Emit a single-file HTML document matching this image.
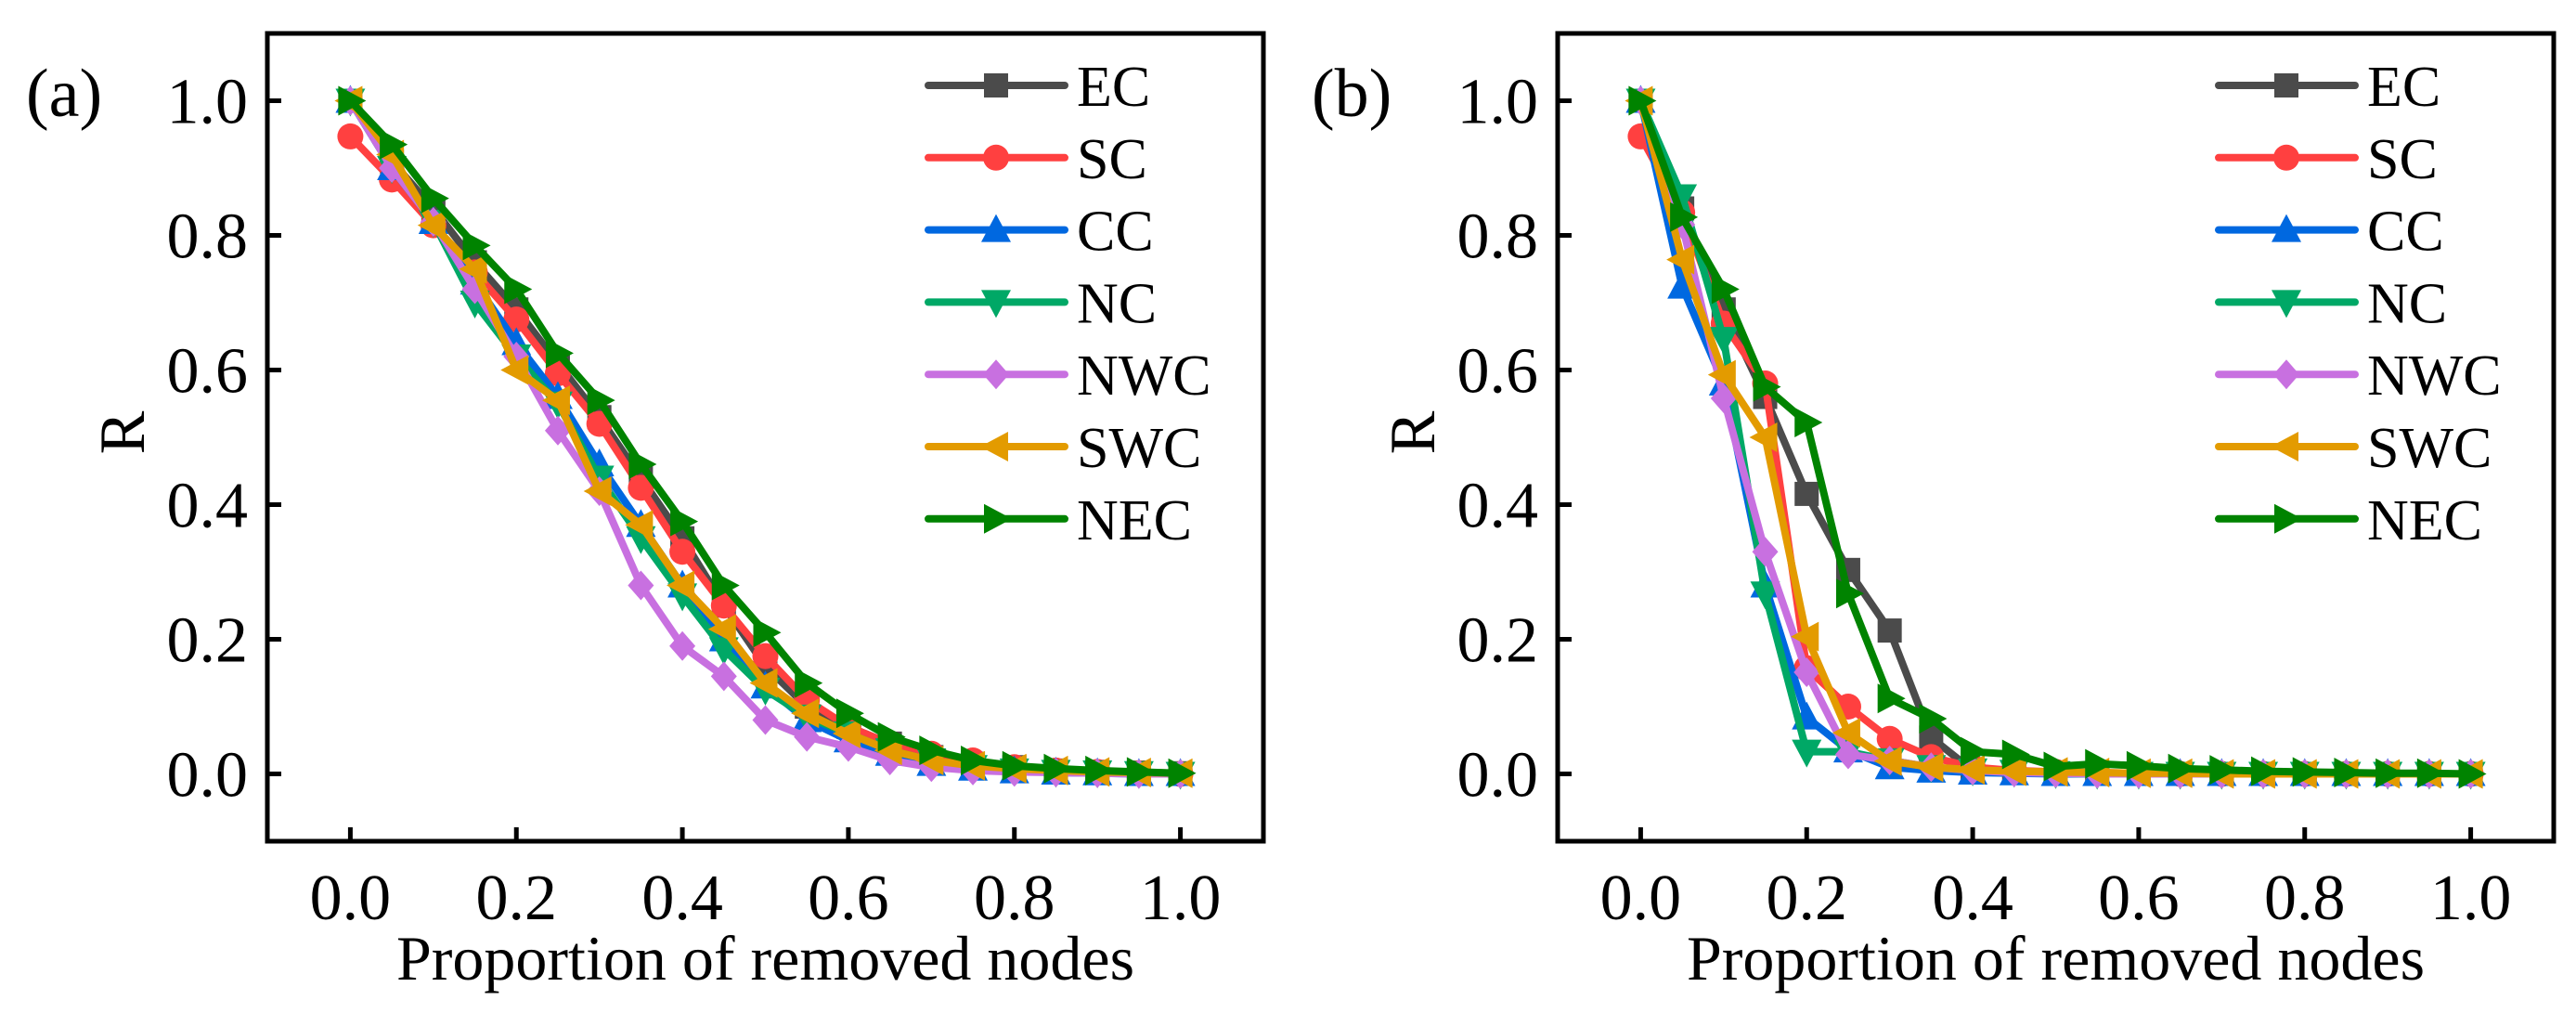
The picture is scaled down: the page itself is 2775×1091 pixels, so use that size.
<!DOCTYPE html>
<html><head><meta charset="utf-8"><style>
html,body{margin:0;padding:0;background:#fff;}
svg{display:block;font-family:"Liberation Serif",serif;}
</style></head><body>
<svg id="fig" width="2775" height="1091" viewBox="0 0 2775 1091" xmlns="http://www.w3.org/2000/svg"></svg>
<script>
const xValues = [0,0.05,0.1,0.15,0.2,0.25,0.3,0.35,0.4,0.45,0.5,0.55,0.6,0.65,0.7,0.75,0.8,0.85,0.9,0.95,1.0];
const seriesNames = ["EC","SC","CC","NC","NWC","SWC","NEC"];
const xTickLabels = ["0.0","0.2","0.4","0.6","0.8","1.0"];
const yTickLabels = ["0.0","0.2","0.4","0.6","0.8","1.0"];
// panel (a)
const aEC  = [1.0,0.91,0.84,0.76,0.69,0.61,0.53,0.44,0.35,0.25,0.16,0.10,0.07,0.045,0.025,0.015,0.01,0.005,0.003,0.002,0.001];
const aSC  = [0.947,0.883,0.815,0.745,0.675,0.595,0.52,0.425,0.33,0.25,0.175,0.11,0.07,0.045,0.03,0.02,0.01,0.005,0.003,0.001,0];
const aCC  = [1.0,0.90,0.82,0.73,0.64,0.56,0.46,0.37,0.28,0.20,0.13,0.08,0.05,0.03,0.015,0.008,0.004,0.002,0.001,0,0];
const aNC  = [1.0,0.90,0.82,0.70,0.62,0.55,0.44,0.35,0.265,0.185,0.125,0.085,0.06,0.035,0.02,0.01,0.005,0.003,0.002,0.001,0];
const aNWC = [1.0,0.90,0.82,0.72,0.62,0.51,0.42,0.28,0.19,0.145,0.08,0.055,0.04,0.02,0.01,0.005,0.003,0.002,0.001,0,0];
const aSWC = [1.0,0.92,0.815,0.75,0.60,0.555,0.42,0.37,0.28,0.215,0.135,0.09,0.06,0.035,0.02,0.012,0.008,0.005,0.003,0.002,0.001];
const aNEC = [1.0,0.935,0.855,0.785,0.72,0.625,0.555,0.46,0.375,0.28,0.21,0.135,0.09,0.055,0.035,0.02,0.012,0.008,0.005,0.003,0.001];
// panel (b)
const bEC  = [1.0,0.84,0.69,0.56,0.416,0.303,0.213,0.054,0.005,0.003,0.002,0.001,0.001,0,0,0,0,0,0,0,0];
const bSC  = [0.947,0.834,0.669,0.58,0.157,0.10,0.052,0.025,0.01,0.005,0.003,0.002,0.001,0,0,0,0,0,0,0,0];
const bCC  = [1.0,0.724,0.58,0.28,0.084,0.035,0.01,0.005,0.002,0.001,0,0,0,0,0,0,0,0,0,0,0];
const bNC  = [1.0,0.858,0.646,0.268,0.033,0.033,0.02,0.01,0.005,0.003,0.001,0,0,0,0,0,0,0,0,0,0];
const bNWC = [1.0,0.816,0.558,0.33,0.151,0.029,0.02,0.01,0.005,0.002,0.001,0,0,0,0,0,0,0,0,0,0];
const bSWC = [1.0,0.764,0.593,0.50,0.204,0.061,0.019,0.01,0.006,0.004,0.003,0.002,0.001,0.001,0,0,0,0,0,0,0];
const bNEC = [1.0,0.827,0.72,0.575,0.522,0.268,0.112,0.082,0.033,0.029,0.011,0.015,0.012,0.008,0.006,0.004,0.003,0.002,0.001,0.001,0];

const colors = ["#4b4b4b","#ff4040","#0068e0","#00a866","#c870e0","#e39b00","#008300"];
const markers = ["square","circle","up","down","diamond","left","right"];
const NS = "http://www.w3.org/2000/svg";
const svg = document.getElementById("fig");
function mk(tag, attrs, parent){const e=document.createElementNS(NS,tag);for(const k in attrs)e.setAttribute(k,attrs[k]);(parent||svg).appendChild(e);return e;}

function marker(g,type,cx,cy,col){
  const s=15; let e;
  if(type==="square") e=mk("rect",{x:cx-13,y:cy-13,width:26,height:26,fill:col},g);
  else if(type==="circle") e=mk("circle",{cx:cx,cy:cy,r:14,fill:col},g);
  else {
    let p;
    if(type==="up") p=[[cx,cy-s-2],[cx+s+1,cy+s-2],[cx-s-1,cy+s-2]];
    else if(type==="down") p=[[cx,cy+s+2],[cx+s+1,cy-s+2],[cx-s-1,cy-s+2]];
    else if(type==="left") p=[[cx-s-2,cy],[cx+s-2,cy-s-1],[cx+s-2,cy+s+1]];
    else if(type==="right") p=[[cx+s+2,cy],[cx-s+2,cy-s-1],[cx-s+2,cy+s+1]];
    else p=[[cx,cy-s-1],[cx+s-1,cy],[cx,cy+s+1],[cx-s+1,cy]];
    e=mk("polygon",{points:p.map(q=>q.join(",")).join(" "),fill:col},g);
  }
  return e;
}

function panel(left,label,labelX,data,tag){
  const right=left+1073, top=36, bottom=906;
  const xs=v=>left+(v+0.1)/1.2*(right-left);
  const ys=v=>bottom-(v+0.1)/1.2*(bottom-top);
  const g=mk("g",{});
  
  
  data.forEach((vals,i)=>{
    const sg=mk("g",{},g);
    
    
    const pts=vals.map((v,j)=>xs(xValues[j])+","+ys(v)).join(" ");
    mk("polyline",{points:pts,fill:"none",stroke:colors[i],"stroke-width":8,"stroke-linejoin":"round","stroke-linecap":"round"},sg);
    vals.forEach((v,j)=>{
      const m=marker(sg,markers[i],xs(xValues[j]),ys(v),colors[i]);
      
      
    });
  });
  const fr=mk("rect",{x:left,y:top,width:right-left,height:bottom-top,fill:"none",stroke:"#000","stroke-width":5},g);
  
  
  xTickLabels.forEach(t=>{
    const v=parseFloat(t), x=xs(v);
    mk("line",{x1:x,y1:bottom,x2:x,y2:bottom-15,stroke:"#000","stroke-width":5},g);
    const tx=mk("text",{x:x,y:990,"font-size":70,"text-anchor":"middle",fill:"#000"},g);
    tx.textContent=t;
    
    
  });
  yTickLabels.forEach(t=>{
    const v=parseFloat(t), y=ys(v);
    mk("line",{x1:left,y1:y,x2:left+15,y2:y,stroke:"#000","stroke-width":5},g);
    const ty=mk("text",{x:left-21,y:y+24,"font-size":70,"text-anchor":"end",fill:"#000"},g);
    ty.textContent=t;
    
    
  });
  const xt=mk("text",{x:(left+right)/2,y:1055,"font-size":68,"text-anchor":"middle",fill:"#000"},g);
  xt.textContent="Proportion of removed nodes";
  
  
  const yt=mk("text",{x:0,y:0,"font-size":70,"text-anchor":"middle",fill:"#000",transform:`translate(${left-133},466) rotate(-90)`},g);
  yt.textContent="R";
  
  
  const pl=mk("text",{x:labelX,y:125,"font-size":74,fill:"#000"},g);
  pl.textContent=label;
  
  
  const lg=mk("g",{},g);
  
  
  seriesNames.forEach((n,i)=>{
    const y=92+i*77.8, lx=left+712;
    const eg=mk("g",{},lg);
    
    
    mk("line",{x1:lx,y1:y,x2:lx+147,y2:y,stroke:colors[i],"stroke-width":8,"stroke-linecap":"round"},eg);
    marker(eg,markers[i],lx+73,y,colors[i]);
    const t=mk("text",{x:lx+160,y:y+22,"font-size":62,fill:"#000"},eg);
    t.textContent=n;
  });
}
panel(288,"(a)",28,[aEC,aSC,aCC,aNC,aNWC,aSWC,aNEC],"a");
panel(1678,"(b)",1413,[bEC,bSC,bCC,bNC,bNWC,bSWC,bNEC],"b");
</script>
</body></html>
